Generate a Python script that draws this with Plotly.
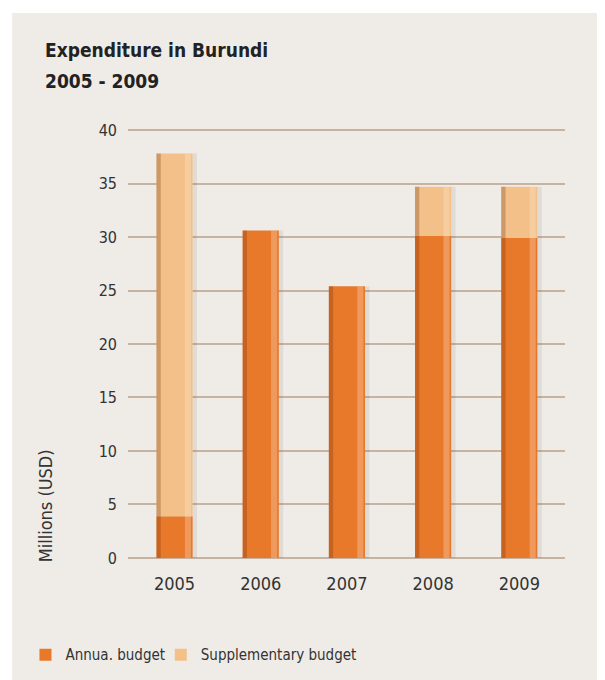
import plotly.graph_objects as go

years = ["2005", "2006", "2007", "2008", "2009"]
annual_budget = [3.9, 30.6, 25.4, 30.1, 29.9]
supplementary_budget = [33.9, 0, 0, 4.6, 4.8]
y_ticks = [0, 5, 10, 15, 20, 25, 30, 35, 40]

totals = [a + s for a, s in zip(annual_budget, supplementary_budget)]

FONT = "DejaVu Sans Condensed, Liberation Sans Narrow, Arial Narrow, sans-serif"
ORANGE = "#e8782a"
LIGHT = "#f3c08a"
GRID = "#c6b3a2"
BG = "#efebe7"
BW = 0.42

fig = go.Figure()
# soft drop shadow to the right of each bar
fig.add_trace(go.Bar(x=years, y=totals, width=0.05, offset=BW / 2,
                     marker=dict(color="rgba(90,80,70,0.10)", line=dict(width=0)),
                     showlegend=False, hoverinfo="skip"))
fig.add_trace(go.Bar(x=years, y=annual_budget, name="Annua. budget", width=BW,
                     marker=dict(color=ORANGE, line=dict(width=0)), legend="legend"))
fig.add_trace(go.Bar(x=years, y=supplementary_budget, base=annual_budget,
                     name="Supplementary budget", width=BW,
                     marker=dict(color=LIGHT, line=dict(width=0)), legend="legend2"))
# darker left edge
fig.add_trace(go.Bar(x=years, y=totals, width=0.05, offset=-BW / 2,
                     marker=dict(color="rgba(110,45,10,0.28)", line=dict(width=0)),
                     showlegend=False, hoverinfo="skip"))
# lighter right edge
fig.add_trace(go.Bar(x=years, y=totals, width=0.07, offset=BW / 2 - 0.09,
                     marker=dict(color="rgba(255,235,210,0.30)", line=dict(width=0)),
                     showlegend=False, hoverinfo="skip"))

legend_common = dict(orientation="h", y=-0.223, xanchor="left", yanchor="middle",
                     font=dict(size=15, color="#333333", family=FONT),
                     bgcolor="rgba(0,0,0,0)", itemwidth=30)

fig.update_layout(
    width=597, height=672,
    barmode="overlay",
    paper_bgcolor="white",
    plot_bgcolor="rgba(0,0,0,0)",
    margin=dict(l=120, r=40, t=121, b=121, autoexpand=False),
    font=dict(family=FONT, color="#333333"),
    xaxis=dict(type="category", range=[-0.54, 4.53], showgrid=False, zeroline=False,
               showline=False, ticks="", tickfont=dict(size=18, color="#333333"),
               ticklabelstandoff=12),
    yaxis=dict(range=[-0.1, 40.1], tickvals=y_ticks, showgrid=True, gridcolor=GRID,
               gridwidth=2, zeroline=False, showline=False, ticks="",
               tickfont=dict(size=16, color="#333333"), ticklabelstandoff=10),
    showlegend=True,
    legend=dict(x=-0.2346, **legend_common),
    legend2=dict(x=0.075, **legend_common),
    shapes=[dict(type="rect", xref="paper", yref="paper", x0=-0.265, x1=1.3,
                 y0=-0.4, y1=1.270, fillcolor=BG, line=dict(width=0), layer="below")],
    annotations=[
        dict(text="<b>Expenditure in Burundi</b>", xref="paper", yref="paper",
             x=-0.1945, y=1.221, yshift=-3, xanchor="left", yanchor="top", showarrow=False,
             align="left", font=dict(size=19, color="#222222", family=FONT)),
        dict(text="<b>2005 - 2009</b>", xref="paper", yref="paper",
             x=-0.1945, y=1.221, yshift=-34, xanchor="left", yanchor="top", showarrow=False,
             align="left", font=dict(size=19, color="#222222", family=FONT)),
        dict(text="Millions (USD)", xref="paper", yref="paper", x=-0.188, y=0,
             xanchor="center", yanchor="bottom", yshift=-5, textangle=-90, showarrow=False,
             font=dict(size=18, color="#333333", family=FONT)),
    ],
)

fig.write_html("out.html")
